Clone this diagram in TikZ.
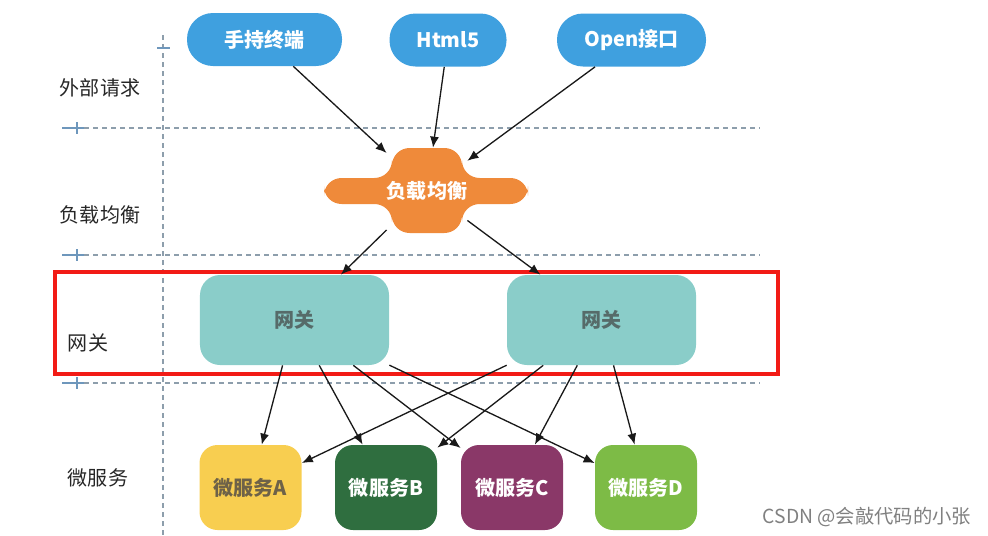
\documentclass[tikz,border=0pt]{standalone}
\usepackage{fontspec}
\setmainfont{Noto Sans CJK SC}
\usetikzlibrary{arrows.meta,positioning}
\definecolor{pillblue}{HTML}{3FA0DF}
\definecolor{lborange}{HTML}{EF8A3A}
\definecolor{gwteal}{HTML}{8ACDC9}
\definecolor{gwtext}{HTML}{566B69}
\definecolor{msyellow}{HTML}{F8CE50}
\definecolor{mstext}{HTML}{6E6248}
\definecolor{msgreen}{HTML}{2F6E3F}
\definecolor{mspurple}{HTML}{8A3868}
\definecolor{mslime}{HTML}{7DBB46}
\definecolor{gridline}{HTML}{8D9EAC}
\definecolor{tickblue}{HTML}{6E97BC}
\definecolor{markred}{HTML}{F21B16}
\tikzset{
  labelfont/.style={text=black!85,font=\fontsize{11.4}{13}\selectfont},
  reqbox/.style={
    rounded corners=5.2mm,fill=pillblue,minimum height=10.6mm,
    text=white,font=\bfseries\fontsize{11.4}{13}\selectfont
  },
  lbbox/.style={
    minimum width=14mm,minimum height=17mm,inner sep=0pt,
    text=white,font=\bfseries\fontsize{11.4}{13}\selectfont
  },
  gwbox/.style={
    rounded corners=4mm,fill=gwteal,minimum width=37.8mm,minimum height=18mm,
    text=gwtext,font=\bfseries\fontsize{11.4}{13}\selectfont
  },
  msbox/.style={
    rounded corners=3.6mm,minimum width=20.4mm,minimum height=17mm,
    text=white,font=\bfseries\fontsize{11.4}{13}\selectfont
  },
  gridrule/.style={draw=gridline,line width=.7pt,dash pattern=on .9mm off .9mm},
  tick/.style={draw=tickblue,line width=.8pt},
  arrow/.style={-{Latex[length=2.2mm,width=1.8mm]},draw=black!90,line width=.75pt}
}
\begin{document}
\begin{tikzpicture}[x=0.2mm,y=-0.2mm]
\useasboundingbox (0,0) rectangle (988,536);

\draw[gridrule] (163,35) -- (163,536);
\draw[gridrule] (84,128) -- (760,128);
\draw[gridrule] (84,255) -- (760,255);
\draw[gridrule] (84,383) -- (760,383);
\draw[tick] (157,48) -- (170,48);
\foreach \y in {128,255,383}
  \draw[tick] (62,\y) -- (84,\y) (77,\y-6) -- (77,\y+6);

\node[labelfont] (rowreq) at (100,88) {外部请求};
\node[labelfont] (rowlb) at (100,215) {负载均衡};
\node[labelfont] (rowgw) at (88,343) {网关};
\node[labelfont] (rowms) at (98,478) {微服务};

\node[reqbox,minimum width=31mm] (hand) at (264.5,39.5) {手持终端};
\node[reqbox,minimum width=23.4mm] (html) at (448,40) {Html5};
\node[reqbox,minimum width=29.8mm] (open) at (631.5,40) {Open接口};

\fill[lborange,rounded corners=10] (392,148) -- (462,148) -- (462,178) -- (528,178)
  -- (528,204) -- (462,204) -- (462,233) -- (392,233) -- (392,204) -- (324,204)
  -- (324,178) -- (392,178) -- cycle;
\node[lbbox] (lb) at (427,190.5) {负载均衡};

\node[gwbox] (gwl) at (294.5,320) {网关};
\node[gwbox] (gwr) at (601.5,320) {网关};

\node[msbox,fill=msyellow,text=mstext] (msa) at (250.5,487.5) {微服务A};
\node[msbox,fill=msgreen] (msb) at (386,487.5) {微服务B};
\node[msbox,fill=mspurple] (msc) at (512,487.5) {微服务C};
\node[msbox,fill=mslime] (msd) at (646,487.5) {微服务D};

\draw[markred,line width=.8mm] (55,272) rectangle (778,374);

\draw[arrow] (hand) -- (lb);
\draw[arrow] (html) -- (lb);
\draw[arrow] (open) -- (lb);
\draw[arrow] (lb) -- (gwl);
\draw[arrow] (lb) -- (gwr);
\foreach \ms in {msa,msb,msc,msd}{
  \draw[arrow] (gwl) -- (\ms);
  \draw[arrow] (gwr) -- (\ms);
}

\node[font=\fontsize{11}{13}\selectfont,text=gray] (mark) at (867,517) {CSDN @会敲代码的小张};
\end{tikzpicture}
\end{document}
